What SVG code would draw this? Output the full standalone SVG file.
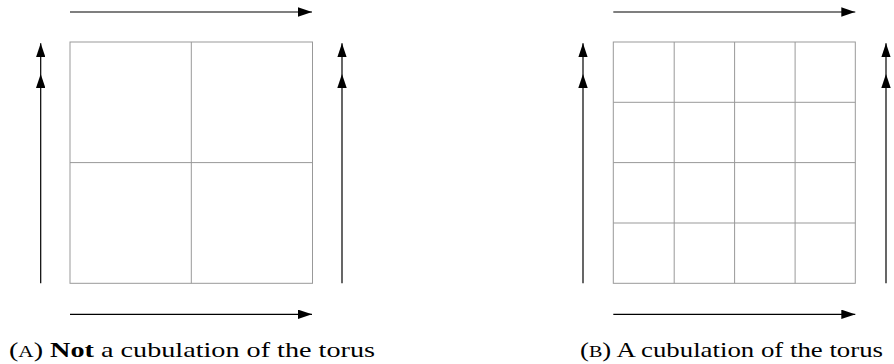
<svg xmlns="http://www.w3.org/2000/svg" width="894" height="364" viewBox="0 0 894 364">
  <style>
    .grid { fill: none; stroke: #999999; stroke-width: 1; }
    .arr { fill: none; stroke: #000000; stroke-width: 1.2; marker-end: url(#head); }
    .arr2 { fill: none; stroke: #000000; stroke-width: 1.2; marker-mid: url(#head); marker-end: url(#head); }
    .cap { font-family: "Liberation Serif", "Times New Roman", serif; font-size: 22px; fill: #000000; }
    .sc { font-size: 16.5px; }
    .bold { font-weight: bold; }
  </style>
  <defs>
    <marker id="head" viewBox="0 0 14 9.4" markerUnits="userSpaceOnUse" markerWidth="14" markerHeight="9.4" refX="14" refY="4.7" orient="auto">
      <path d="M0,0 L14,4.7 L0,9.4 Z" fill="#000000"/>
    </marker>
  </defs>
  <rect width="894" height="364" fill="#ffffff"/>

  <g id="grid-a">
    <rect class="grid" x="70" y="42" width="242.5" height="241.3"/>
    <line class="grid" x1="191.3" y1="42" x2="191.3" y2="283.3"/>
    <line class="grid" x1="70" y1="162.6" x2="312.5" y2="162.6"/>
  </g>

  <g id="grid-b">
    <rect class="grid" x="613.3" y="42" width="242" height="241.3"/>
    <line class="grid" x1="674.2" y1="42" x2="674.2" y2="283.3"/>
    <line class="grid" x1="734.6" y1="42" x2="734.6" y2="283.3"/>
    <line class="grid" x1="795.1" y1="42" x2="795.1" y2="283.3"/>
    <line class="grid" x1="613.3" y1="102.3" x2="855.3" y2="102.3"/>
    <line class="grid" x1="613.3" y1="162.6" x2="855.3" y2="162.6"/>
    <line class="grid" x1="613.3" y1="223" x2="855.3" y2="223"/>
  </g>

  <g id="connectors">
    <path class="arr" d="M70 12 H312"/>
    <path class="arr" d="M70 314.3 H312"/>
    <path class="arr2" d="M40.7 283.3 V74 V43.3"/>
    <path class="arr2" d="M342 283.3 V74 V43.3"/>
    <path class="arr" d="M613.3 12 H855.3"/>
    <path class="arr" d="M613.3 314.3 H855.3"/>
    <path class="arr2" d="M583 283.3 V74 V43.3"/>
    <path class="arr2" d="M886 283.3 V74 V43.3"/>
  </g>

  <g id="captions">
    <text class="cap" x="9" y="357" textLength="366" lengthAdjust="spacingAndGlyphs">(<tspan class="sc">A</tspan>) <tspan class="bold">Not</tspan> a cubulation of the torus</text>
    <text class="cap" x="580" y="357" textLength="303" lengthAdjust="spacingAndGlyphs">(<tspan class="sc">B</tspan>) A cubulation of the torus</text>
  </g>
</svg>
